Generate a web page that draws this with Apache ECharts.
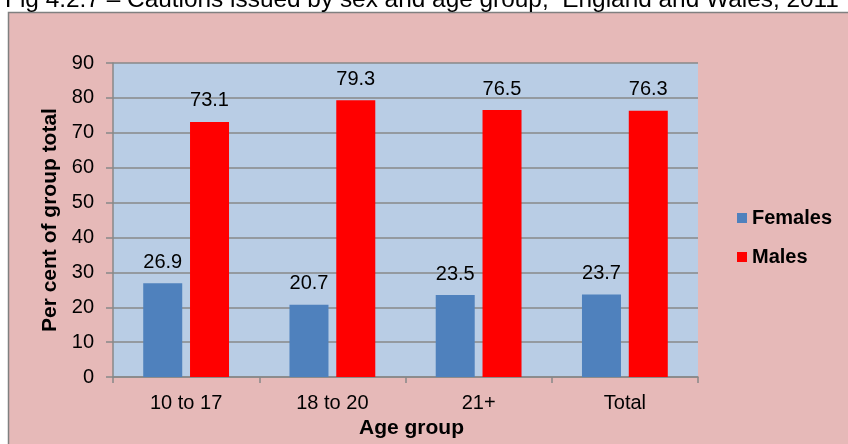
<!DOCTYPE html>
<html>
<head>
<meta charset="utf-8">
<script src="https://cdn.jsdelivr.net/npm/echarts@6/dist/echarts.min.js"></script>
<style>
  html, body { margin: 0; padding: 0; background: #fff; }
  #chart { width: 848px; height: 444px; }
</style>
</head>
<body>
<div id="chart"></div>
<script>
// data
var categories = ['10 to 17', '18 to 20', '21+', 'Total'];
var females = [26.9, 20.7, 23.5, 23.7];
var males = [73.1, 79.3, 76.5, 76.3];
var yTicks = [0, 90, 10]; // min, max, interval

var font = 'Liberation Sans, Arial, sans-serif';

var chart = echarts.init(document.getElementById('chart'));

function labelStyle() {
  return {
    show: true,
    position: 'top',
    distance: 11,
    color: '#000',
    fontFamily: font,
    fontSize: 20
  };
}

chart.setOption({
  animation: false,
  backgroundColor: '#fff',
  title: {
    text: 'Fig 4.2.7 \u2013 Cautions issued by sex and age group,  England and Wales, 2011',
    left: 0,
    top: -17,
    textStyle: { color: '#000', fontFamily: font, fontSize: 24.4, fontWeight: 'normal' }
  },
  graphic: [{
    type: 'rect',
    z: -10,
    shape: { x: 8.5, y: 12.5, width: 900, height: 500 },
    style: { fill: '#E6B9B8', stroke: '#808080', lineWidth: 1.5 }
  }],
  grid: {
    left: 113,
    right: 150,
    top: 63,
    bottom: 61,
    show: true,
    backgroundColor: '#B9CDE5',
    borderWidth: 0
  },
  legend: {
    orient: 'vertical',
    left: 732,
    top: 203,
    itemWidth: 10,
    itemHeight: 10,
    itemGap: 19,
    icon: 'rect',
    textStyle: { color: '#000', fontFamily: font, fontSize: 20, fontWeight: 'bold' },
    data: ['Females', 'Males']
  },
  xAxis: {
    type: 'category',
    data: categories,
    name: 'Age group',
    nameLocation: 'middle',
    nameGap: 38,
    nameTextStyle: { color: '#000', fontFamily: font, fontSize: 21, fontWeight: 'bold', padding: [0, 0, 0, 12] },
    axisLine: { lineStyle: { color: '#888', width: 1.5 } },
    axisTick: { show: true, length: 6, lineStyle: { color: '#888', width: 1.5 } },
    axisLabel: { color: '#000', fontFamily: font, fontSize: 20, margin: 16 }
  },
  yAxis: {
    type: 'value',
    min: yTicks[0],
    max: yTicks[1],
    interval: yTicks[2],
    name: 'Per cent of group total',
    nameLocation: 'middle',
    nameGap: 52,
    nameTextStyle: { color: '#000', fontFamily: font, fontSize: 21, fontWeight: 'bold' },
    axisLine: { show: true, lineStyle: { color: '#888', width: 1.5 } },
    axisTick: { show: true, length: 7, lineStyle: { color: '#888', width: 1.5 } },
    splitLine: { show: true, lineStyle: { color: '#888', width: 1.5 } },
    axisLabel: { color: '#000', fontFamily: font, fontSize: 20, margin: 19 }
  },
  series: [{
    name: 'Females',
    type: 'bar',
    barWidth: 39,
    barGap: '20%',
    itemStyle: { color: '#4F81BD' },
    label: labelStyle(),
    data: females
  }, {
    name: 'Males',
    type: 'bar',
    barWidth: 39,
    barGap: '20%',
    itemStyle: { color: '#FF0000' },
    label: labelStyle(),
    data: males
  }]
});
</script>
</body>
</html>
